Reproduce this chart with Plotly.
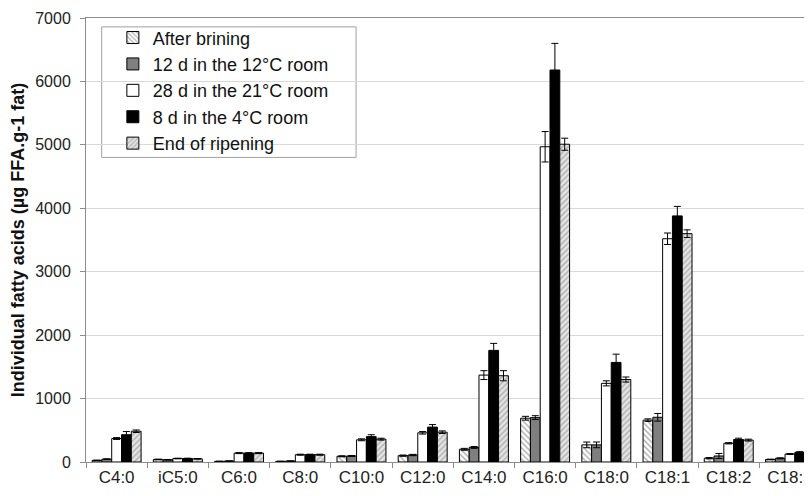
import plotly.graph_objects as go

categories = ["C4:0", "iC5:0", "C6:0", "C8:0", "C10:0", "C12:0", "C14:0",
              "C16:0", "C18:0", "C18:1", "C18:2", "C18:3"]

series_names = ["After brining", "12 d in the 12°C room", "28 d in the 21°C room",
                "8 d in the 4°C room", "End of ripening"]

after_brining = [25, 40, 10, 10, 90, 100, 200, 690, 270, 660, 60, 40]
after_brining_err = [5, 5, 3, 3, 8, 10, 15, 30, 45, 20, 10, 5]

d12_12c = [45, 35, 15, 15, 95, 110, 230, 700, 270, 705, 95, 58]
d12_12c_err = [5, 5, 3, 3, 8, 10, 15, 30, 45, 60, 40, 8]

d28_21c = [370, 55, 140, 115, 350, 460, 1370, 4970, 1240, 3520, 295, 126]
d28_21c_err = [15, 5, 8, 8, 15, 20, 70, 240, 40, 90, 10, 8]

d8_4c = [430, 55, 140, 115, 400, 550, 1760, 6180, 1570, 3880, 355, 153]
d8_4c_err = [50, 5, 8, 8, 30, 40, 110, 420, 130, 150, 20, 10]

end_ripening = [485, 50, 140, 115, 360, 470, 1360, 5010, 1300, 3600, 345, 153]
end_ripening_err = [20, 5, 8, 8, 15, 20, 80, 95, 40, 60, 15, 10]

y_ticks = [0, 1000, 2000, 3000, 4000, 5000, 6000, 7000]

styles = [
    dict(color="white", pattern=dict(shape="\\", fgcolor="#555555", bgcolor="white", size=4, solidity=0.35)),
    dict(color="#7f7f7f"),
    dict(color="white"),
    dict(color="black"),
    dict(color="#dcdcdc", pattern=dict(shape="/", fgcolor="#777777", bgcolor="#e4e4e4", size=4, solidity=0.35)),
]
values = [after_brining, d12_12c, d28_21c, d8_4c, end_ripening]
errors = [after_brining_err, d12_12c_err, d28_21c_err, d8_4c_err, end_ripening_err]

fig = go.Figure()
for name, vals, errs, st in zip(series_names, values, errors, styles):
    marker = dict(color=st["color"], line=dict(color="black", width=1))
    if "pattern" in st:
        marker["pattern"] = st["pattern"]
    fig.add_trace(go.Bar(
        x=categories, y=vals, name=name, marker=marker,
        error_y=dict(type="data", array=errs, color="black", thickness=1, width=3.5),
    ))

# legend frame (drawn as a shape, in plot-area paper coordinates)
fig.add_shape(type="rect", xref="paper", yref="paper",
              x0=0.0216, x1=0.372, y0=0.686, y1=0.980,
              line=dict(color="#a0a0a0", width=1), fillcolor="white", layer="below")

fig.update_layout(
    width=804, height=488,
    margin=dict(l=78, r=0, t=10, b=34),
    paper_bgcolor="white", plot_bgcolor="white",
    barmode="group", bargap=0.2, bargroupgap=0,
    font=dict(family="Liberation Sans, Arial, sans-serif", size=16, color="#222222"),
    showlegend=True,
    legend=dict(
        x=0.037, y=0.997, xanchor="left", yanchor="top",
        bgcolor="rgba(0,0,0,0)", borderwidth=0,
        font=dict(size=18, color="#111111"),
    ),
)
fig.update_xaxes(
    range=[-0.5, 11.36],
    showline=True, linecolor="#8c8c8c", linewidth=1, mirror=True,
    ticks="outside", tickson="boundaries", ticklen=5, tickcolor="#8c8c8c",
    showgrid=False, tickfont=dict(size=17, color="#222222"),
)
fig.update_yaxes(
    range=[0, 7000], tickvals=y_ticks,
    showline=True, linecolor="#8c8c8c", linewidth=1,
    ticks="outside", ticklen=5, tickcolor="#8c8c8c",
    showgrid=True, gridcolor="#d9d9d9", gridwidth=1,
    zeroline=False, ticklabelstandoff=6,
    tickfont=dict(size=16, color="#222222"),
    title=dict(text="<b>Individual fatty acids (µg FFA.g-1 fat)</b>",
               font=dict(size=18, color="#111111"), standoff=7),
)

fig.write_html("out.html")
